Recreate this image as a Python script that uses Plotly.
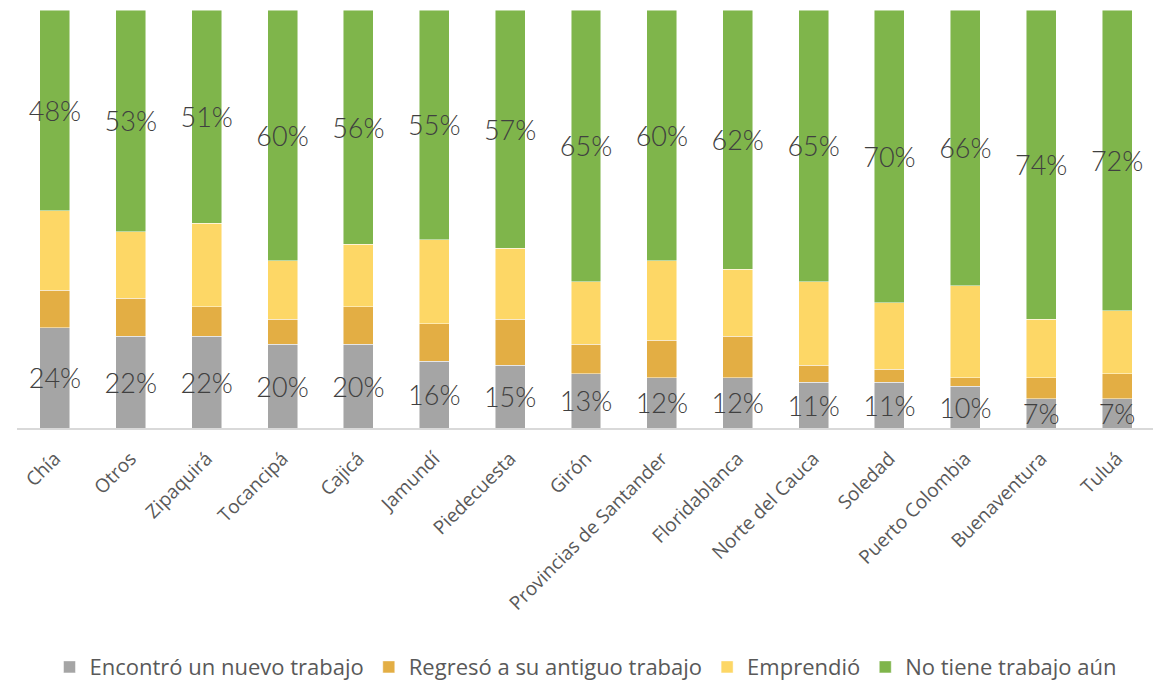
import plotly.graph_objects as go

# === Datos ===
municipios = ["Chía", "Otros", "Zipaquirá", "Tocancipá", "Cajicá", "Jamundí",
              "Piedecuesta", "Girón", "Provincias de Santander", "Floridablanca",
              "Norte del Cauca", "Soledad", "Puerto Colombia", "Buenaventura", "Tuluá"]

encontro = [24, 22, 22, 20, 20, 16, 15, 13, 12, 12, 11, 11, 10, 7, 7]
regreso = [9, 9, 7, 6, 9, 9, 11, 7, 9, 10, 4, 3, 2, 5, 6]
emprendio = [19, 16, 20, 14, 15, 20, 17, 15, 19, 16, 20, 16, 22, 14, 15]
sin_trabajo = [48, 53, 51, 60, 56, 55, 57, 65, 60, 62, 65, 70, 66, 74, 72]

series = [
    ("Encontró un nuevo trabajo", encontro, "#A5A5A5", True),
    ("Regresó a su antiguo trabajo", regreso, "#E3AE44", False),
    ("Emprendió", emprendio, "#FDD766", False),
    ("No tiene trabajo aún", sin_trabajo, "#7FB54B", True),
]

fig = go.Figure()
for nombre, valores, color, etiquetas in series:
    fig.add_trace(go.Bar(
        x=municipios, y=valores, name=nombre,
        marker=dict(color=color, line=dict(color="rgba(255,255,255,0.6)", width=0.8)),
        text=[f"{v}%" for v in valores] if etiquetas else None,
        textposition="inside" if etiquetas else "none",
        insidetextanchor="middle",
        textangle=0,
        constraintext="none",
        textfont=dict(family="Lato", size=27, color="#404040", weight=300),
        cliponaxis=False,
    ))

# la página html añade 8px de margen, se compensa en los márgenes
fig.update_layout(
    barmode="stack",
    bargap=0.605,
    width=1161, height=691,
    margin=dict(l=9, r=14, t=2, b=271),
    plot_bgcolor="white", paper_bgcolor="white",
    font=dict(family="Open Sans", color="#595959"),
    legend=dict(orientation="h", x=0.5, xanchor="center", y=-0.572, yanchor="middle",
                font=dict(size=22, color="#595959"), traceorder="normal",
                itemwidth=30),
    xaxis=dict(tickangle=-45, tickfont=dict(size=19, color="#595959"),
               ticklabelstandoff=10,
               showline=True, linecolor="#D9D9D9", linewidth=2, ticks=""),
    yaxis=dict(range=[0, 100], visible=False),
)

fig.write_html("out.html")
